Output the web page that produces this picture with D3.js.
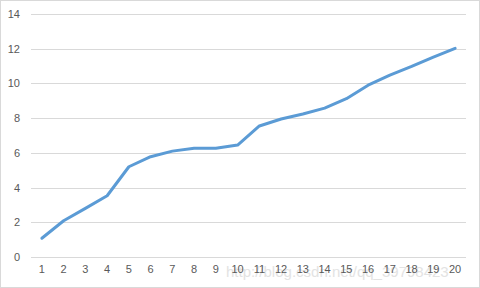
<!DOCTYPE html>
<html>
<head>
<meta charset="utf-8">
<script src="https://cdn.jsdelivr.net/npm/d3@7"></script>
<style>
  body { margin: 0; background: #fff; }
  svg { display: block; font-family: "Open Sans", "Liberation Sans", sans-serif; }
</style>
</head>
<body>
<svg width="480" height="288"></svg>
<script>
// values
var categories = [1, 2, 3, 4, 5, 6, 7, 8, 9, 10, 11, 12, 13, 14, 15, 16, 17, 18, 19, 20];
var values = [1.08, 2.09, 2.8, 3.53, 5.2, 5.78, 6.1, 6.26, 6.26, 6.45,
              7.55, 7.95, 8.24, 8.58, 9.12, 9.9, 10.48, 10.98, 11.52, 12.02];
var yTicks = [0, 2, 4, 6, 8, 10, 12, 14];

var svg = d3.select("svg");

// outer border
svg.append("rect")
  .attr("x", 0.5).attr("y", 0.5)
  .attr("width", 479).attr("height", 287)
  .attr("fill", "none")
  .attr("stroke", "#d9d9d9");

var x = d3.scaleBand()
  .domain(categories)
  .range([31, 466]);

var y = d3.scaleLinear()
  .domain([0, 14])
  .range([257, 14]);

// gridlines
svg.append("g")
  .selectAll("line")
  .data(yTicks)
  .enter()
  .append("line")
  .attr("x1", 31)
  .attr("x2", 466)
  .attr("y1", function(d){ return Math.round(y(d)) + 0.5; })
  .attr("y2", function(d){ return Math.round(y(d)) + 0.5; })
  .attr("stroke", "#d9d9d9")
  .attr("stroke-width", 1);

// y axis labels
var yAxis = d3.axisLeft(y).tickValues(yTicks).tickSize(0).tickPadding(0);
svg.append("g")
  .attr("transform", "translate(20,0)")
  .call(yAxis)
  .call(function(g){ g.select(".domain").remove(); })
  .selectAll("text")
  .attr("fill", "#595959")
  .style("font-size", "11px");

// watermark
svg.append("text")
  .attr("x", 226)
  .attr("y", 277)
  .attr("fill", "#e3e3e3")
  .style("font-size", "15px")
  .style("font-family", "Liberation Sans, sans-serif")
  .text("http://blog.csdn.net/qq_39798423");

// x axis labels
var xAxis = d3.axisBottom(x).tickSize(0).tickPadding(0);
svg.append("g")
  .attr("transform", "translate(0,265)")
  .call(xAxis)
  .call(function(g){ g.select(".domain").remove(); })
  .selectAll("text")
  .attr("fill", "#595959")
  .style("font-size", "11px");

// the line
var line = d3.line()
  .x(function(d, i){ return x(categories[i]) + x.bandwidth() / 2; })
  .y(function(d){ return y(d); });

svg.append("path")
  .datum(values)
  .attr("d", line)
  .attr("fill", "none")
  .attr("stroke", "#5b9bd5")
  .attr("stroke-width", 3)
  .attr("stroke-linejoin", "round")
  .attr("stroke-linecap", "round");
</script>
</body>
</html>
